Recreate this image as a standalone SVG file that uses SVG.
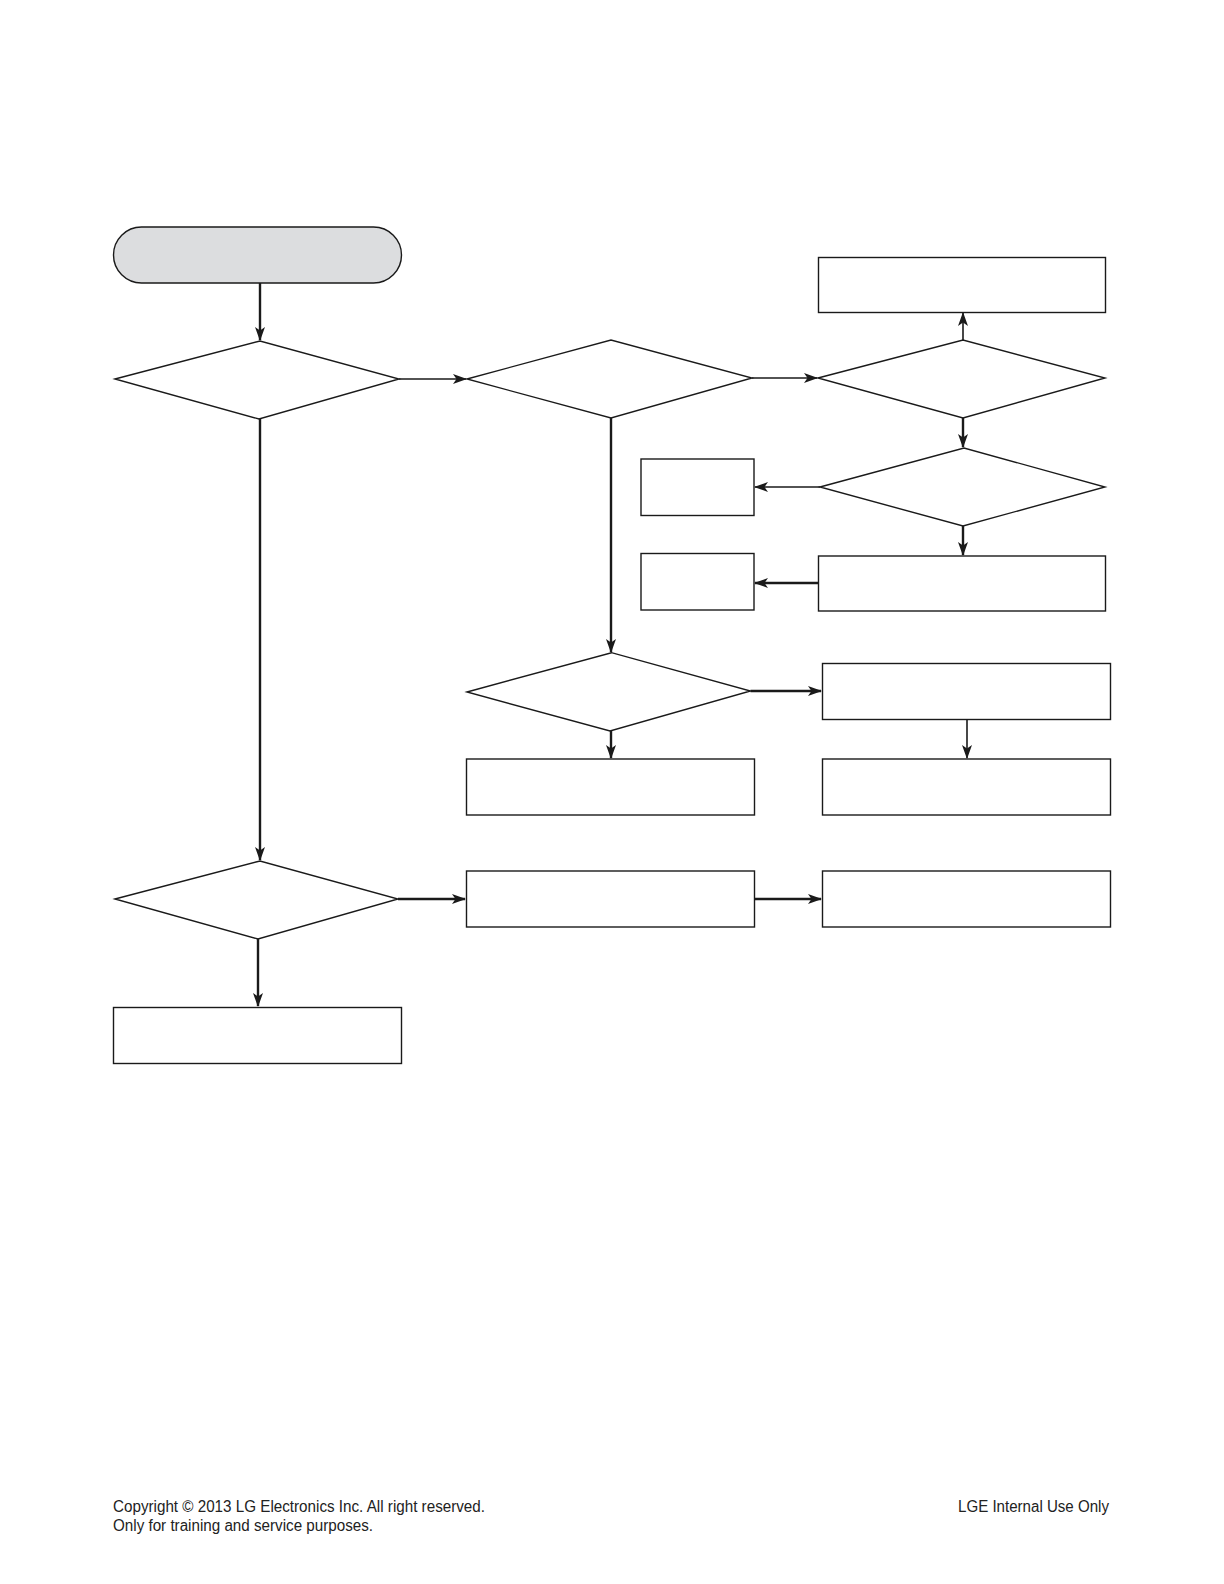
<svg xmlns="http://www.w3.org/2000/svg" width="1224" height="1584" viewBox="0 0 1224 1584">
<defs>
<marker id="arr" markerWidth="14" markerHeight="11" refX="13" refY="5.5" orient="auto" markerUnits="userSpaceOnUse">
<path d="M0,0.5 L14,5.5 L0,10.5 L3.5,5.5 z" fill="#1a1a1a"/>
</marker>
<style>
.box{fill:#fff;stroke:#1a1a1a;stroke-width:1.4}
.term{fill:#dcdddf;stroke:#1a1a1a;stroke-width:1.4}
.c{fill:none;stroke:#1a1a1a;stroke-width:1.6;marker-end:url(#arr)}
.ct{fill:none;stroke:#1a1a1a;stroke-width:2.4;marker-end:url(#arr)}
.ft{font-family:"Liberation Sans",Arial,sans-serif;font-size:16px;fill:#222}
</style>
</defs>
<rect width="1224" height="1584" fill="#fff"/>
<g id="start"><rect class="term" x="113.5" y="227" width="288" height="56" rx="28" ry="28"/></g>
<g id="d1"><polygon class="box" points="115,379 260,341 399,379 259,419"/></g>
<g id="d2"><polygon class="box" points="467,379 611,340 752,378 611,418"/></g>
<g id="d3"><polygon class="box" points="818,378 963,340 1105,378 963,418"/></g>
<g id="r_top"><rect class="box" x="818.5" y="257.5" width="287" height="55"/></g>
<g id="d4"><polygon class="box" points="820,487 964,448 1105,487 963,526"/></g>
<g id="s1"><rect class="box" x="641" y="459" width="113" height="56.5"/></g>
<g id="r_mid"><rect class="box" x="818.5" y="556" width="287" height="55"/></g>
<g id="s2"><rect class="box" x="641" y="553.5" width="113" height="56.5"/></g>
<g id="d5"><polygon class="box" points="467,692 611.5,652.7 750.5,691 610,731"/></g>
<g id="rA"><rect class="box" x="822.5" y="663.5" width="288" height="56"/></g>
<g id="rB"><rect class="box" x="822.5" y="759" width="288" height="56"/></g>
<g id="rC"><rect class="box" x="466.5" y="759" width="288" height="56"/></g>
<g id="d6"><polygon class="box" points="115,899 260,861 398,899 258,939"/></g>
<g id="rD"><rect class="box" x="466.5" y="871" width="288" height="56"/></g>
<g id="rE"><rect class="box" x="822.5" y="871" width="288" height="56"/></g>
<g id="rF"><rect class="box" x="113.5" y="1007.5" width="288" height="56"/></g>
<g id="connectors">
<path class="ct" d="M260,283 V340"/>
<path class="c" d="M399,379 H466"/>
<path class="c" d="M752,378 H817"/>
<path class="c" d="M963,340 V313"/>
<path class="ct" d="M963,418 V447"/>
<path class="c" d="M820,487 H755"/>
<path class="ct" d="M963,526 V555"/>
<path class="ct" d="M818,583 H755"/>
<path class="ct" d="M611,418 V652"/>
<path class="ct" d="M750.5,691 H821"/>
<path class="c" d="M967,719.5 V758"/>
<path class="ct" d="M611,731 V758"/>
<path class="ct" d="M260,419 V860"/>
<path class="ct" d="M398,899 H465"/>
<path class="ct" d="M754.5,899 H821"/>
<path class="ct" d="M258,939 V1006"/>
</g>
<g id="footer">
<text class="ft" x="113" y="1512" textLength="372" lengthAdjust="spacingAndGlyphs">Copyright © 2013 LG Electronics Inc. All right reserved.</text>
<text class="ft" x="113" y="1531" textLength="260" lengthAdjust="spacingAndGlyphs">Only for training and service purposes.</text>
<text class="ft" x="958" y="1512" textLength="151" lengthAdjust="spacingAndGlyphs">LGE Internal Use Only</text>
</g>
</svg>
